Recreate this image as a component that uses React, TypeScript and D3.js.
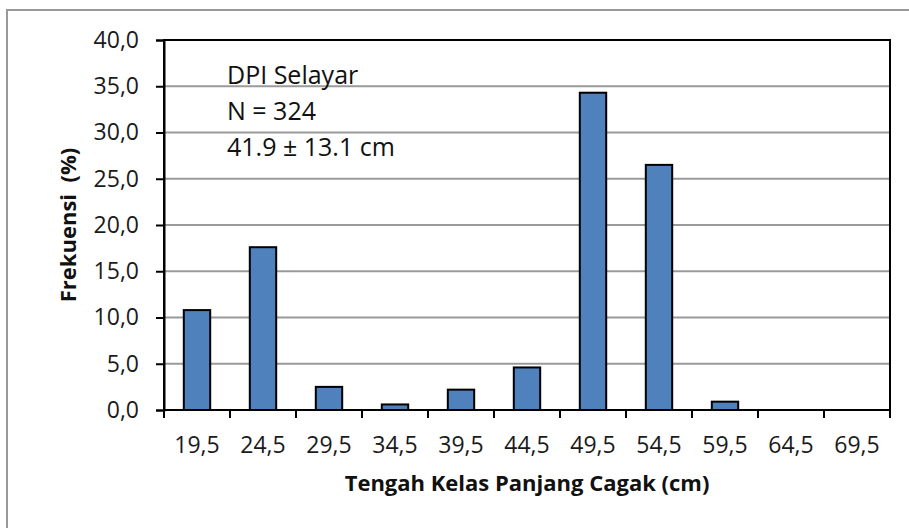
import React, { useRef, useEffect } from "react";
import * as d3 from "d3";

const classMids = ["19,5", "24,5", "29,5", "34,5", "39,5", "44,5", "49,5", "54,5", "59,5", "64,5", "69,5"];
const freqPct = [10.8, 17.6, 2.5, 0.6, 2.2, 4.6, 34.3, 26.5, 0.9, 0, 0];
const yTicks = [0, 5, 10, 15, 20, 25, 30, 35, 40];
const infoLines = ["DPI Selayar", "N = 324", "41.9 ± 13.1 cm"];

const W = 909;
const H = 528;
const margin = { left: 164, right: 19, top: 40, bottom: 118 };
const font = "'Open Sans', 'Noto Sans', sans-serif";

const App = () => {
  const ref = useRef<SVGSVGElement>(null);

  useEffect(() => {
    const svg = d3.select(ref.current);
    svg.selectAll("*").remove();

    const x0 = margin.left;
    const x1 = W - margin.right;
    const y0 = H - margin.bottom;
    const y1 = margin.top;

    const x = d3.scaleBand().domain(classMids).range([x0, x1]).paddingInner(0.6).paddingOuter(0.3);
    const xEdge = d3.scaleLinear().domain([0, classMids.length]).range([x0, x1]);
    const y = d3.scaleLinear().domain([0, 40]).range([y0, y1]);

    // outer frame (cropped at right and bottom)
    svg
      .append("path")
      .attr("d", `M${W},10H7V${H}`)
      .attr("fill", "none")
      .attr("stroke", "#999")
      .attr("stroke-width", 2);

    // gridlines
    svg
      .append("g")
      .selectAll("line")
      .data(yTicks.filter((t) => t > 0 && t < 40))
      .join("line")
      .attr("x1", x0)
      .attr("x2", x1)
      .attr("y1", (d) => y(d))
      .attr("y2", (d) => y(d))
      .attr("stroke", "#9a9a9a")
      .attr("stroke-width", 2);

    // bars
    svg
      .append("g")
      .selectAll("rect")
      .data(freqPct)
      .join("rect")
      .attr("x", (_, i) => x(classMids[i])!)
      .attr("width", x.bandwidth())
      .attr("y", (d) => y(d))
      .attr("height", (d) => y0 - y(d))
      .attr("fill", "#4f81bd")
      .attr("stroke", "black")
      .attr("stroke-width", (d) => (d > 0 ? 2 : 0));

    // plot border
    svg
      .append("rect")
      .attr("x", x0)
      .attr("y", y1)
      .attr("width", x1 - x0)
      .attr("height", y0 - y1)
      .attr("fill", "none")
      .attr("stroke", "black")
      .attr("stroke-width", 2);

    // y axis
    const yAxis = svg
      .append("g")
      .attr("transform", `translate(${x0},0)`)
      .call(
        d3
          .axisLeft(y)
          .tickValues(yTicks)
          .tickSize(8)
          .tickPadding(17)
          .tickFormat((d) => d3.format(".1f")(d as number).replace(".", ","))
      );
    yAxis.select(".domain").attr("stroke", "black").attr("stroke-width", 2);
    yAxis.selectAll(".tick line").attr("stroke", "black").attr("stroke-width", 2);
    yAxis
      .selectAll(".tick text")
      .attr("font-family", font)
      .attr("font-size", 23)
      .attr("fill", "#1a1a1a");

    // x axis ticks at class edges
    svg
      .append("g")
      .selectAll("line")
      .data(d3.range(classMids.length + 1))
      .join("line")
      .attr("x1", (d) => xEdge(d))
      .attr("x2", (d) => xEdge(d))
      .attr("y1", y0)
      .attr("y2", y0 + 8)
      .attr("stroke", "black")
      .attr("stroke-width", 2);

    svg
      .append("g")
      .selectAll("text")
      .data(classMids)
      .join("text")
      .attr("x", (d) => x(d)! + x.bandwidth() / 2)
      .attr("y", y0 + 43)
      .attr("text-anchor", "middle")
      .attr("font-family", font)
      .attr("font-size", 23)
      .attr("fill", "#1a1a1a")
      .text((d) => d);

    // axis titles
    svg
      .append("text")
      .attr("x", 527)
      .attr("y", 491)
      .attr("text-anchor", "middle")
      .attr("font-family", font)
      .attr("font-weight", "bold")
      .attr("font-size", 22)
      .attr("fill", "#111")
      .text("Tengah Kelas Panjang Cagak (cm)");

    svg
      .append("text")
      .attr("transform", `translate(76,${(y0 + y1) / 2}) rotate(-90)`)
      .attr("text-anchor", "middle")
      .attr("font-family", font)
      .attr("font-weight", "bold")
      .attr("font-size", 22)
      .attr("fill", "#111")
      .style("white-space", "pre")
      .text("Frekuensi  (%)");

    // annotation
    svg
      .append("g")
      .selectAll("text")
      .data(infoLines)
      .join("text")
      .attr("x", 227)
      .attr("y", (_, i) => 84 + i * 36)
      .attr("font-family", font)
      .attr("font-size", 25)
      .attr("fill", "#111")
      .text((d) => d);
  }, []);

  return (
    <svg
      ref={ref}
      width={W}
      height={H}
      style={{ position: "absolute", left: 0, top: 0, display: "block" }}
    ></svg>
  );
};

export default App;
